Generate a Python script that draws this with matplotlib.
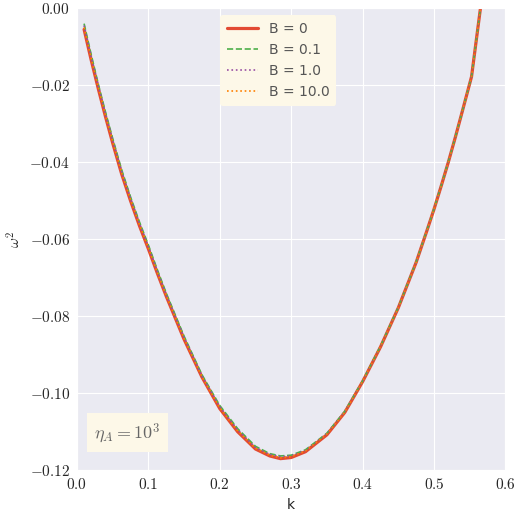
import matplotlib
matplotlib.use("Agg")
import matplotlib.pyplot as plt
import seaborn as sns

sns.set_style("darkgrid")
plt.rcParams["mathtext.fontset"] = "cm"
plt.rcParams["font.family"] = ["DejaVu Sans"]

k = [0.01, 0.02, 0.03, 0.04, 0.05, 0.0625, 0.075, 0.0875, 0.1, 0.1125, 0.125, 0.15, 0.175,
     0.2, 0.225, 0.25, 0.27, 0.285, 0.3, 0.32, 0.35, 0.375, 0.4, 0.425, 0.45, 0.475,
     0.49, 0.5, 0.51, 0.52, 0.53, 0.54, 0.5525, 0.565]
w_b0 = [-0.0055, -0.0135, -0.0210, -0.0282, -0.0350, -0.0430, -0.0500, -0.0565, -0.0625,
        -0.0688, -0.0748, -0.0860, -0.0958, -0.1040, -0.1100, -0.1145, -0.1163, -0.1170,
        -0.1167, -0.1152, -0.1108, -0.1050, -0.0970, -0.0880, -0.0778, -0.0660, -0.0578,
        -0.0522, -0.0462, -0.0400, -0.0334, -0.0265, -0.0178, -0.0085 + 0.0085]
off_b01 = [0.0015, 0.0014, 0.0012, 0.0012, 0.0012, 0.0011, 0.0010, 0.0010, 0.0010,
           0.0009, 0.0008, 0.0008, 0.0006, 0.0008, 0.0008, 0.0007, 0.0006, 0.0007,
           0.0006, 0.0005, 0.0004, 0.0003, 0.0002, 0.0002, 0.0001, 0.0001, 0.0001,
           0.0001, 0.0001, 0.0001, 0.0, 0.0, 0.0, 0.0]
off_b1 = [0.0010, 0.0009, 0.0008, 0.0008, 0.0008, 0.0007, 0.0006, 0.0006, 0.0006,
          0.0005, 0.0004, 0.0005, 0.0003, 0.0005, 0.0005, 0.0004, 0.0004, 0.0005,
          0.0004, 0.0003, 0.0003, 0.0002, 0.0001, 0.0001, 0.0, 0.0, 0.0, 0.0, 0.0,
          0.0, 0.0, 0.0, 0.0, 0.0]
off_b10 = [0.0005, 0.0005, 0.0004, 0.0004, 0.0004, 0.0003, 0.0003, 0.0003, 0.0003,
           0.0002, 0.0002, 0.0002, 0.0001, 0.0002, 0.0002, 0.0002, 0.0002, 0.0002,
           0.0002, 0.0002, 0.0002, 0.0001, 0.0001, 0.0001, 0.0, 0.0, 0.0, 0.0, 0.0,
           0.0, 0.0, 0.0, 0.0, 0.0]
w_b01 = [a + b for a, b in zip(w_b0, off_b01)]
w_b1 = [a + b for a, b in zip(w_b0, off_b1)]
w_b10 = [a + b for a, b in zip(w_b0, off_b10)]

fig, ax = plt.subplots(figsize=(5.2, 5.15), dpi=100)
ax.plot(k, w_b0, color="#e24a33", lw=2.3, ls="-", label="B = 0")
ax.plot(k, w_b01, color="#4daf4a", lw=1.2, ls="--", label="B = 0.1")
ax.plot(k, w_b1, color="#984ea3", lw=1.2, ls=":", label="B = 1.0")
ax.plot(k, w_b10, color="#ff7f00", lw=1.2, ls=":", label="B = 10.0")

xt = [0.0, 0.1, 0.2, 0.3, 0.4, 0.5, 0.6]
yt = [-0.12, -0.10, -0.08, -0.06, -0.04, -0.02, 0.0]
ax.set_xlim(0, 0.6)
ax.set_ylim(-0.12, 0.0)
ax.set_xticks(xt)
ax.set_yticks(yt)
ax.set_xticklabels([r"$\mathrm{%.1f}$" % v for v in xt], fontsize=11)
ax.set_yticklabels([r"$\mathrm{%.2f}$" % v if v < 0 else r"$\mathrm{0.00}$" for v in yt], fontsize=11)
ax.tick_params(length=0, pad=5)
ax.set_xlabel("k", fontsize=10)
ax.set_ylabel(r"$\omega^2$", fontsize=11)

leg = ax.legend(loc="upper center", bbox_to_anchor=(0.47, 1.0), frameon=True, fontsize=10,
                facecolor="#fdf8e8", edgecolor="none", framealpha=1, borderpad=0.5, handlelength=2.2)
for t in leg.get_texts():
    t.set_color("#555555")

ax.text(0.04, 0.07, r"$\eta_A = 10^3$", transform=ax.transAxes, fontsize=13, color="#666666",
        bbox=dict(facecolor="#fdf8e8", edgecolor="none", boxstyle="square,pad=0.4"))

fig.subplots_adjust(left=0.148, right=0.972, bottom=0.087, top=0.984)
fig.savefig("out.png", dpi=100)
